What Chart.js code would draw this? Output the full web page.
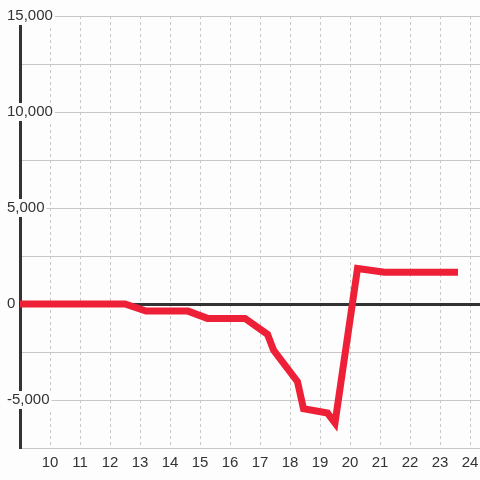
<!DOCTYPE html>
<html>
<head>
<meta charset="utf-8">
<script src="https://cdn.jsdelivr.net/npm/chart.js@4"></script>
<style>
  body { margin: 0; background: #fcfdfc; }
  #chart { display: block; }
</style>
</head>
<body>
<canvas id="chart" width="480" height="480"></canvas>
<script>
// Data
const hours = [8.9, 12.5, 13.2, 14.6, 15.25, 16.5, 17.25, 17.45, 18.25, 18.45, 19.25, 19.5, 20.25, 21.15, 23.6];
const values = [0, 0, -370, -370, -750, -750, -1580, -2400, -4050, -5450, -5680, -6200, 1850, 1650, 1650];
const xTicks = [10, 11, 12, 13, 14, 15, 16, 17, 18, 19, 20, 21, 22, 23, 24];
const yLabelStep = 5000;

const bg = '#fcfdfc';
const textColor = '#333';
const font = { family: 'Liberation Sans, Arial, sans-serif', size: 15 };

const points = hours.map((h, i) => ({ x: h, y: values[i] }));

const ctx = document.getElementById('chart').getContext('2d');
new Chart(ctx, {
  type: 'line',
  data: {
    datasets: [{
      data: points,
      borderColor: '#ee2037',
      borderWidth: 7,
      pointRadius: 0,
      tension: 0,
      fill: false,
    }]
  },
  options: {
    responsive: false,
    animation: false,
    layout: { padding: { left: 20, top: 16, right: 0, bottom: 2 } },
    plugins: { legend: { display: false }, tooltip: { enabled: false } },
    scales: {
      x: {
        type: 'linear',
        min: 9,
        max: 24.333,
        border: { display: false, dash: [3, 3] },
        grid: { color: '#c8c8c8', drawTicks: false },
        afterBuildTicks: scale => { scale.ticks = xTicks.map(v => ({ value: v })); },
        afterFit: scale => { scale.paddingLeft = 0; scale.paddingRight = 0; },
        ticks: {
          autoSkip: false,
          maxRotation: 0,
          padding: 6,
          color: textColor,
          font: font,
        }
      },
      y: {
        min: -7500,
        max: 15000,
        border: { color: textColor, width: 3 },
        grid: {
          drawTicks: false,
          color: c => c.tick.value === 0 ? textColor : '#c8c8c8',
          lineWidth: c => c.tick.value === 0 ? 3 : 1,
        },
        afterFit: scale => { scale.width = 0; scale.paddingTop = 0; scale.paddingBottom = 0; },
        ticks: {
          stepSize: 2500,
          mirror: true,
          padding: -13,
          z: 1,
          color: textColor,
          font: font,
          callback: v => v % yLabelStep === 0 ? v.toLocaleString('en-US') : '',
          showLabelBackdrop: true,
          backdropColor: c => c.tick && c.tick.value % yLabelStep === 0 ? bg : 'rgba(0,0,0,0)',
          backdropPadding: { left: 2, right: 2, top: 0, bottom: 0 },
        }
      }
    }
  }
});
</script>
</body>
</html>
